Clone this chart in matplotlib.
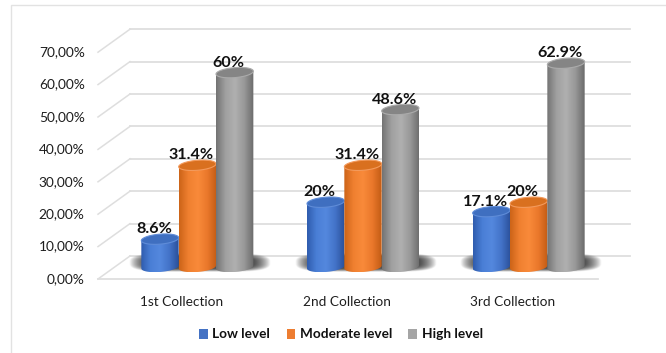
import numpy as np
import matplotlib
matplotlib.use("Agg")
import matplotlib.pyplot as plt
from matplotlib.patches import Polygon, Rectangle, PathPatch
from matplotlib.path import Path
from matplotlib.colors import LinearSegmentedColormap
from matplotlib.transforms import ScaledTranslation

plt.rcParams['font.family'] = ['Lato', 'DejaVu Sans']

categories = ['1st Collection', '2nd Collection', '3rd Collection']
series_names = ['Low level', 'Moderate level', 'High level']
low_level = [8.6, 20.0, 17.1]
moderate_level = [31.4, 31.4, 20.0]
high_level = [60.0, 48.6, 62.9]
value_labels = [['8.6%', '20%', '17.1%'],
                ['31.4%', '31.4%', '20%'],
                ['60%', '48.6%', '62.9%']]
y_ticks = [0, 10, 20, 30, 40, 50, 60, 70]
y_tick_labels = ['0,00%', '10,00%', '20,00%', '30,00%', '40,00%', '50,00%', '60,00%', '70,00%']

W, H = 666, 353
fig = plt.figure(figsize=(W / 100, H / 100), dpi=100, facecolor='white')
X0, X1, Y0 = 98, 598, 279
PX_PER_UNIT = 3.24
ax = fig.add_axes([X0 / W, (H - Y0) / H, (X1 - X0) / W, 70 * PX_PER_UNIT / H])
ax.set_xlim(0, 3)
ax.set_ylim(0, 70)
ax.axis('off')

# Outer frame of the chart area
fig.add_artist(Rectangle((11 / W, -0.02), 1.1, 1 - 5 / H + 0.02, transform=fig.transFigure, fill=False,
                         edgecolor='#e2e2e2', lw=1.0))

# Depth of the chart floor, in points
DX, DY = 32 * 0.72, 23 * 0.72
back = ax.transData + ScaledTranslation(DX / 72, DY / 72, fig.dpi_scale_trans)
GRID = '#dedede'
for t, lab in zip(y_ticks, y_tick_labels):
    ax.plot([0, 3], [t, t], color=GRID, lw=1.3, transform=back, clip_on=False, zorder=1)
    xa, ya = ax.transData.transform((0, t))
    xb, yb = back.transform((0, t))
    ax.plot([xa, xb], [ya, yb], color=GRID, lw=1.1, transform=None, clip_on=False, zorder=1)
    ax.text(-0.08, t, lab, ha='right', va='center', fontsize=9.9, color='#1e1e1e')
ax.plot([0, 3], [0, 0], color=GRID, lw=1.3, clip_on=False, zorder=1)

GROUP_PITCH = 0.994
for i, c in enumerate(categories):
    ax.text(i * GROUP_PITCH + 0.5, -7.1, c, ha='center', va='center', fontsize=9.8, color='#1e1e1e')

# Cylinder geometry in data units
BASE = 3.7
BAR_W = 0.224
RX = BAR_W / 2
RY = 5.0 / PX_PER_UNIT
TILT = 0.45
GROUP_SHIFT = 0.096

side_cmaps = [
    LinearSegmentedColormap.from_list('b', ['#2f5cae', '#4a7fd6', '#5488de', '#4373c8', '#2a4f99']),
    LinearSegmentedColormap.from_list('o', ['#cc6418', '#f08030', '#f98a3a', '#ea782b', '#c25c14']),
    LinearSegmentedColormap.from_list('g', ['#737373', '#a0a0a0', '#b0b0b0', '#989898', '#6a6a6a']),
]
top_colors = [('#3f6fc0', '#5f8cd8'), ('#d9701f', '#f39a5c'), ('#858585', '#ababab')]
series = [low_level, moderate_level, high_level]
gradient = np.linspace(0, 1, 128).reshape(1, -1)


def ellipse_xy(cx, cy):
    th = np.linspace(0, 2 * np.pi, 80)
    x = cx + RX * np.cos(th)
    y = cy + RY * np.sin(th) + TILT * np.cos(th)
    return x, y


# Soft floor shadow under each group, blurred at its rim
yy, xx = np.mgrid[-1:1:60j, -1:1:200j]
soft = np.clip(1.0 - (np.abs(xx) ** 5 + np.abs(yy) ** 3), 0, 1)
shadow = np.zeros(soft.shape + (4,))
shadow[..., :3] = 0.16
shadow[..., 3] = np.clip(soft * 1.1, 0, 0.8)
for i in range(3):
    c = i * GROUP_PITCH + 0.5 + GROUP_SHIFT
    ax.imshow(shadow, extent=[c - 0.41, c + 0.44, BASE - 1.6, BASE + 4.0], aspect='auto',
              zorder=2, interpolation='bilinear', clip_on=False)

for j, vals in enumerate(series):
    for i, v in enumerate(vals):
        cx = i * GROUP_PITCH + 0.5 + GROUP_SHIFT + (j - 1) * BAR_W
        # Body outline: lower half of the base ellipse up to the top ellipse
        th = np.linspace(np.pi, 2 * np.pi, 50)
        bx = cx + RX * np.cos(th)
        by = BASE + RY * np.sin(th) + TILT * np.cos(th)
        top = BASE + v
        verts = np.vstack([np.c_[bx, by], [[cx + RX, top + TILT]], [[cx - RX, top - TILT]], [[bx[0], by[0]]]])
        body = PathPatch(Path(verts), fc='none', ec='none', transform=ax.transData)
        ax.add_patch(body)
        im = ax.imshow(gradient, cmap=side_cmaps[j], extent=[cx - RX, cx + RX, by.min(), top + 2],
                       aspect='auto', zorder=3 + j, interpolation='bilinear')
        im.set_clip_path(body)
        ex, ey = ellipse_xy(cx, top)
        ax.add_patch(Polygon(np.c_[ex, ey], closed=True, fc=top_colors[j][0], ec=top_colors[j][1],
                             lw=0.8, zorder=3 + j + 0.5, clip_on=False))
        ax.text(cx - 0.036, top + RY + 5.0 / PX_PER_UNIT, value_labels[j][i], ha='center', va='center',
                fontsize=11.6, fontweight='bold', color='#111111', zorder=10, clip_on=False)

ax.set_xlim(0, 3)
ax.set_ylim(0, 70)

# Legend along the bottom, built from the series names
leg_colors = ['#4472c4', '#ed7d31', '#a5a5a5']
handles = [Rectangle((0, 0), 1, 1, fc=c, ec='none') for c in leg_colors]
fig.legend(handles, series_names, loc='center', bbox_to_anchor=(341 / W, 1 - 334.5 / H), ncol=3, frameon=False,
           prop={'family': 'Lato', 'weight': 'bold', 'size': 9.8}, handlelength=0.62, handleheight=0.75,
           handletextpad=0.35, columnspacing=1.2, labelcolor='#111111')

fig.savefig('out.png', dpi=100, facecolor='white')
